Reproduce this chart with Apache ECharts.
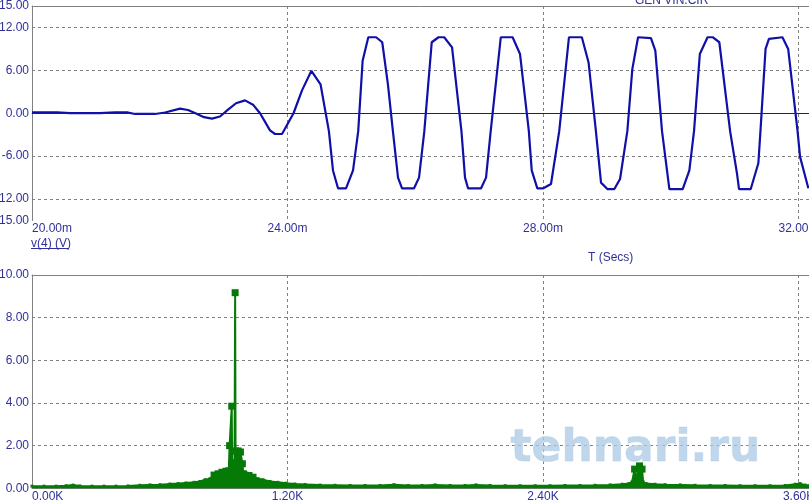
<!DOCTYPE html>
<html><head><meta charset="utf-8">
<script src="https://cdn.jsdelivr.net/npm/echarts@6/dist/echarts.min.js"></script>
<style>html,body{margin:0;padding:0;background:#fff}#c{width:809px;height:500px}</style>
</head><body><div id="c"></div>
<script>
// ---- top plot: v(4) (V) versus time (ms) ----
const timeMs = [
  20.000, 20.391, 20.595, 21.065, 21.299, 21.487, 21.613, 21.926, 22.082, 22.317,
  22.442, 22.568, 22.693, 22.818, 22.943, 23.069, 23.194, 23.335, 23.460, 23.570,
  23.726, 23.804, 23.914, 24.094, 24.227, 24.374, 24.517, 24.648, 24.712, 24.791,
  24.916, 25.026, 25.107, 25.176, 25.265, 25.387, 25.483, 25.572, 25.650, 25.730,
  25.793, 25.981, 26.059, 26.142, 26.258, 26.364, 26.453, 26.576, 26.723, 26.779,
  26.826, 27.030, 27.108, 27.181, 27.339, 27.524, 27.640, 27.778, 27.823, 27.911,
  28.005, 28.125, 28.254, 28.406, 28.608, 28.713, 28.828, 28.908, 29.007, 29.117,
  29.206, 29.320, 29.398, 29.488, 29.690, 29.758, 29.863, 29.978, 30.187, 30.291,
  30.364, 30.455, 30.576, 30.656, 30.760, 30.929, 31.038, 31.069, 31.252, 31.371,
  31.404, 31.484, 31.537, 31.748, 31.838, 31.985, 32.024, 32.154
];
const voltage = [
  0.12, 0.12, 0.02, 0.02, 0.12, 0.12, -0.1, -0.1, 0.1, 0.65,
  0.45, -0.05, -0.55, -0.75, -0.45, 0.5, 1.4, 1.8, 1.2, 0.0,
  -2.4, -2.9, -2.9, 0.0, 3.2, 5.93, 4.05, -2.5, -8, -10.5,
  -10.5, -8, -2.5, 7.35, 10.63, 10.63, 9.93, 4.05, -2.5, -9,
  -10.5, -10.5, -9, -2.5, 9.93, 10.63, 10.63, 9.22, -2.5, -9,
  -10.5, -10.5, -9, -2.5, 10.63, 10.63, 8.28, -2.5, -8, -10.5,
  -10.5, -9.9, -2.5, 10.63, 10.63, 7.1, -2.5, -9.7, -10.6, -10.6,
  -9.2, -2.5, 6.17, 10.63, 10.5, 8.77, -2.5, -10.6, -10.6, -8,
  -2.5, 8.28, 10.63, 10.63, 9.93, -2.5, -8.5, -10.6, -10.6, -7,
  -2.5, 9.0, 10.4, 10.63, 9.0, -2.5, -6.1, -10.5
];
const voltTickLabels = [-15, -12, -6, 0, 6, 12, 15];
const voltGridLines = [-12, -6, 0, 6, 12];

// ---- bottom plot: spectrum (K Hz) ----
const freqK = [
  0.000, 0.056, 0.113, 0.160, 0.193, 0.225, 0.282, 0.338, 0.395, 0.451,
  0.507, 0.554, 0.601, 0.648, 0.686, 0.723, 0.761, 0.789, 0.813, 0.836,
  0.855, 0.874, 0.892, 0.911, 0.924, 0.928, 0.938, 0.940, 0.951, 0.954,
  0.956, 0.968, 0.979, 0.988, 0.993, 1.000, 1.019, 1.038, 1.062, 1.085,
  1.118, 1.155, 1.193, 1.235, 1.282, 1.353, 1.423, 1.494, 1.564, 1.635,
  1.700, 1.766, 1.832, 1.893, 1.963, 2.034, 2.085, 2.151, 2.222, 2.292,
  2.363, 2.433, 2.503, 2.574, 2.644, 2.715, 2.771, 2.804, 2.818, 2.830,
  2.837, 2.845, 2.853, 2.865, 2.870, 2.884, 2.926, 2.973, 3.044, 3.114,
  3.185, 3.255, 3.325, 3.396, 3.466, 3.537, 3.584, 3.607, 3.631, 3.649
];
const magnitude = [
  0.10, 0.10, 0.10, 0.12, 0.15, 0.11, 0.10, 0.10, 0.10, 0.11,
  0.14, 0.16, 0.17, 0.20, 0.22, 0.25, 0.28, 0.32, 0.40, 0.45,
  0.62, 0.68, 0.75, 0.80, 0.82, 2.00, 3.85, 1.00, 1.20, 9.17,
  1.75, 1.75, 1.70, 1.15, 0.68, 0.62, 0.60, 0.52, 0.45, 0.40,
  0.32, 0.28, 0.24, 0.20, 0.18, 0.15, 0.14, 0.13, 0.13, 0.13,
  0.17, 0.13, 0.13, 0.16, 0.13, 0.13, 0.16, 0.13, 0.12, 0.12,
  0.12, 0.12, 0.13, 0.13, 0.14, 0.16, 0.19, 0.22, 0.30, 0.90,
  0.45, 0.50, 1.05, 0.90, 0.30, 0.22, 0.19, 0.17, 0.16, 0.14,
  0.13, 0.13, 0.12, 0.12, 0.12, 0.13, 0.19, 0.22, 0.15, 0.12
];

const LABEL = '#30309a';
const FONT = 'Liberation Sans';
const GRAYL = '#808080';
const GREEN = '#067a06';
const dash = { color: GRAYL, type: [3, 3], width: 1 };

const chart = echarts.init(document.getElementById('c'), null, { renderer: 'canvas' });
const waveData = timeMs.map((t, i) => [t, voltage[i]]);
const specData = freqK.map((f, i) => [f, magnitude[i]]);

chart.setOption({
  animation: false,
  backgroundColor: '#ffffff',
  grid: [
    { left: 32, right: 0, top: 6, height: 214.5, containLabel: false, outerBoundsMode: 'none' },
    { left: 32, right: 0, top: 275, height: 213.3, containLabel: false, outerBoundsMode: 'none' }
  ],
  xAxis: [
    { type: 'value', gridIndex: 0, min: 20, max: 32.164, interval: 4,
      axisLine: { lineStyle: { color: GRAYL } }, axisTick: { show: false },
      axisLabel: { color: LABEL, fontFamily: FONT, fontSize: 12, margin: 2,
        alignMinLabel: 'left', formatter: v => v.toFixed(2) + 'm' },
      splitLine: { show: true, lineStyle: dash } },
    { type: 'value', gridIndex: 0, position: 'top', min: 20, max: 32.164,
      axisLine: { show: true, lineStyle: { color: GRAYL } }, axisTick: { show: false },
      axisLabel: { show: false }, splitLine: { show: false } },
    { type: 'value', gridIndex: 1, min: 0, max: 3.649, interval: 1.2,
      axisLine: { lineStyle: { color: GRAYL } }, axisTick: { show: false },
      axisLabel: { color: LABEL, fontFamily: FONT, fontSize: 12, margin: 2,
        alignMinLabel: 'left', formatter: v => v.toFixed(2) + 'K' },
      splitLine: { show: true, lineStyle: dash } },
    { type: 'value', gridIndex: 1, position: 'top', min: 0, max: 3.649,
      axisLine: { show: true, lineStyle: { color: GRAYL } }, axisTick: { show: false },
      axisLabel: { show: false }, splitLine: { show: false } }
  ],
  yAxis: [
    { type: 'value', gridIndex: 0, min: -15, max: 15, interval: 3,
      axisLine: { show: true, lineStyle: { color: GRAYL } },
      axisTick: { show: false, customValues: voltGridLines },
      axisLabel: { color: LABEL, fontFamily: FONT, fontSize: 12, margin: 3,
        customValues: voltTickLabels, formatter: v => v.toFixed(2) },
      splitLine: { show: true, lineStyle: dash } },
    { type: 'value', gridIndex: 1, min: 0, max: 10, interval: 2,
      axisLine: { show: true, lineStyle: { color: GRAYL } }, axisTick: { show: false },
      axisLabel: { color: LABEL, fontFamily: FONT, fontSize: 12, margin: 3,
        formatter: v => v.toFixed(2) },
      splitLine: { show: true, lineStyle: dash } }
  ],
  series: [
    { type: 'line', xAxisIndex: 0, yAxisIndex: 0, data: waveData,
      showSymbol: false, symbol: 'none',
      lineStyle: { color: '#1010a8', width: 2.2 },
      markLine: { silent: true, symbol: 'none', label: { show: false },
        lineStyle: { color: '#1c1c80', type: 'solid', width: 1 },
        data: [{ yAxis: 0 }] },
      z: 3 },
    { type: 'line', xAxisIndex: 2, yAxisIndex: 1, data: specData,
      symbol: 'rect', symbolSize: v => (v[1] > 0.5 ? 7 : 3), showAllSymbol: true,
      itemStyle: { color: GREEN }, lineStyle: { color: GREEN, width: 2 },
      areaStyle: { color: GREEN, opacity: 1 }, z: 3 }
  ],
  graphic: [
    { type: 'text', left: 31, top: 238, style: { text: 'v(4) (V)', fill: LABEL, font: '12px "Liberation Sans"' } },
    { type: 'line', shape: { x1: 31, y1: 248.5, x2: 69, y2: 248.5 }, style: { stroke: LABEL, lineWidth: 1 } },
    { type: 'text', left: 588, top: 252, style: { text: 'T (Secs)', fill: LABEL, font: '12px "Liberation Sans"' } },
    { type: 'text', x: 635, y: 7, style: { text: 'GEN VIN.CIR', fill: LABEL, font: '12px "Liberation Sans"', verticalAlign: 'bottom' } },
    { type: 'text', left: 510, top: 427, z: 10, silent: true,
      style: { text: 'tehnari.ru', font: 'bold 44px "DejaVu Sans"', opacity: 0.75,
        fill: '#a9c8e4', stroke: '#d6e6f4', lineWidth: 1 } }
  ]
});
</script></body></html>
